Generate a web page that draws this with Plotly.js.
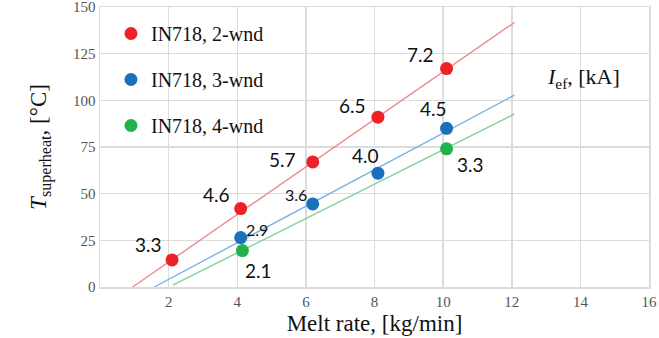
<!DOCTYPE html>
<html>
<head>
<meta charset="utf-8">
<script src="https://cdn.plot.ly/plotly-3.0.1.min.js"></script>
<style>html,body{margin:0;padding:0;background:#fff;}#chart{width:659px;height:338px;}</style>
</head>
<body>
<div id="chart"></div>
<script>
// ---- data ----
const rate2 = [2.1, 4.1, 6.2, 8.1, 10.1];
const temp2 = [14.5, 42, 67, 91, 117];
const cur2  = ['3.3', '4.6', '5.7', '6.5', '7.2'];

const rate3 = [4.1, 6.2, 8.1, 10.1];
const temp3 = [26.5, 44.5, 61, 85];
const cur3  = ['2.9', '3.6', '4.0', '4.5'];

const rate4 = [4.15, 10.1];
const temp4 = [19.5, 74];
const cur4  = ['2.1', '3.3'];

const fit2X = [0.95, 12.08], fit2Y = [0, 141.8];
const fit3X = [1.58, 12.08], fit3Y = [0, 102.8];
const fit4X = [2.12, 12.08], fit4Y = [1, 92.7];

const seriesNames = ['IN718, 2-wnd', 'IN718, 3-wnd', 'IN718, 4-wnd'];
const xTicks = [2, 4, 6, 8, 10, 12, 14, 16];
const yTicks = [0, 25, 50, 75, 100, 125, 150];

// ---- styles ----
const red = '#ec2227', blue = '#1b6fbd', green = '#21b14d';
const redL = '#f08a8a', blueL = '#79b4e3', greenL = '#7fd095';

const traces = [
  {x: fit2X, y: fit2Y, mode: 'lines', line: {color: redL, width: 1.4}, showlegend: false, hoverinfo: 'skip'},
  {x: fit3X, y: fit3Y, mode: 'lines', line: {color: blueL, width: 1.4}, showlegend: false, hoverinfo: 'skip'},
  {x: fit4X, y: fit4Y, mode: 'lines', line: {color: greenL, width: 1.4}, showlegend: false, hoverinfo: 'skip'},
  {x: rate2, y: temp2, mode: 'markers', name: seriesNames[0], legendgroup: 'a', marker: {color: red, size: 13}},
  {x: rate3, y: temp3, mode: 'markers', name: seriesNames[1], legendgroup: 'b', marker: {color: blue, size: 13}},
  {x: rate4, y: temp4, mode: 'markers', name: seriesNames[2], legendgroup: 'c', marker: {color: green, size: 13}}
];

// label offsets (pixels) relative to each point: [dx, dy(up), fontsize]
const off2 = [[-24, 15, 19], [-24, 14, 19], [-30, 2, 19], [-25, 12, 19], [-26, 14, 19]];
const off3 = [[16, 8, 16], [-17, 9, 16], [-12, 18, 19], [-13, 20, 19]];
const off4 = [[16, -20, 19], [24, -16, 19]];

const annotations = [];
function addLabels(xs, ys, labels, offs) {
  xs.forEach((xv, i) => {
    annotations.push({
      x: xv, y: ys[i], xref: 'x', yref: 'y', text: labels[i], showarrow: false,
      xanchor: 'center', yanchor: 'middle',
      xshift: offs[i][0], yshift: offs[i][1],
      font: {family: 'Lato, "Open Sans", sans-serif', size: offs[i][2], color: '#111'}
    });
  });
}
addLabels(rate2, temp2, cur2, off2);
addLabels(rate3, temp3, cur3, off3);
addLabels(rate4, temp4, cur4, off4);

annotations.push({
  xref: 'paper', yref: 'paper', x: 0.88, y: 0.745, xanchor: 'center', yanchor: 'middle',
  showarrow: false,
  text: '<i>I</i><sub>ef</sub>, [kA]',
  font: {family: '"Liberation Serif", serif', size: 22, color: '#111'}
});

const gridCol = '#dcdcdc';
const tickFont = {family: '"Liberation Serif", serif', size: 15, color: '#555'};

const layout = {
  width: 659, height: 338,
  margin: {l: 100, r: 10, t: 7, b: 51},
  paper_bgcolor: '#fff', plot_bgcolor: '#fff',
  showlegend: true,
  legend: {
    x: 0.02, y: 0.975, xanchor: 'left', yanchor: 'top',
    bgcolor: 'rgba(0,0,0,0)', traceorder: 'grouped', tracegroupgap: 17,
    font: {family: '"Liberation Serif", serif', size: 20, color: '#111'}
  },
  xaxis: {
    range: [0, 16], tickmode: 'array', tickvals: xTicks, ticktext: xTicks.map(String),
    showgrid: true, gridcolor: gridCol, gridwidth: 1.5,
    showline: true, linecolor: gridCol, linewidth: 1.5, mirror: true,
    zeroline: false, ticks: '', tickfont: tickFont, ticklabeloverflow: 'allow',
    title: {text: 'Melt rate, [kg/min]', font: {family: '"Liberation Serif", serif', size: 23, color: '#111'}, standoff: 6}
  },
  yaxis: {
    range: [0, 150], tickmode: 'array', tickvals: yTicks, ticktext: yTicks.map(String),
    showgrid: true, gridcolor: gridCol, gridwidth: 1.5,
    showline: true, linecolor: gridCol, linewidth: 1.5, mirror: true,
    zeroline: false, ticks: '', tickfont: tickFont, ticklabeloverflow: 'allow',
    title: {text: '<i>T</i><sub>superheat</sub>, [°C]', font: {family: '"Liberation Serif", serif', size: 23, color: '#111'}, standoff: 20}
  },
  annotations: annotations
};

Plotly.newPlot('chart', traces, layout, {displayModeBar: false, staticPlot: true});
</script>
</body>
</html>
